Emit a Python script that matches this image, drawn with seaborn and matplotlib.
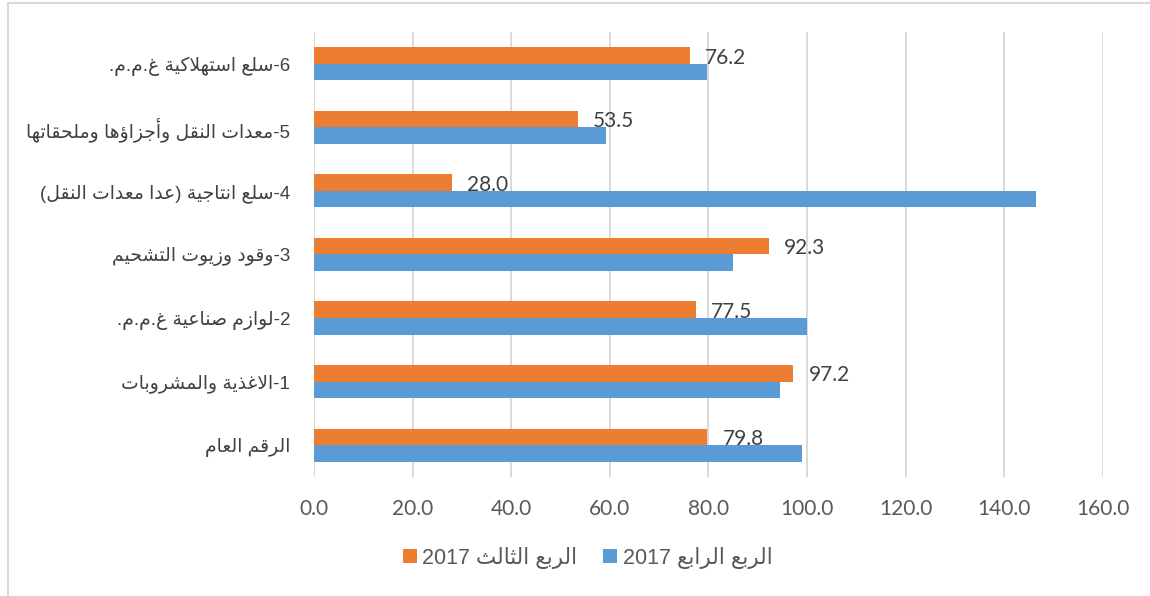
# Import price index by commodity group - Q3 vs Q4 2017

import re
import pandas as pd
import matplotlib.pyplot as plt
import seaborn as sns

# Data (top to bottom as shown in the chart)
categories = [
    '6-سلع استهلاكية غ.م.م.',
    '5-معدات النقل وأجزاؤها وملحقاتها',
    '4-سلع انتاجية (عدا معدات النقل)',
    '3-وقود وزيوت التشحيم',
    '2-لوازم صناعية غ.م.م.',
    '1-الاغذية والمشروبات',
    'الرقم العام',
]
q3_values = [76.2, 53.5, 28.0, 92.3, 77.5, 97.2, 79.8]
q4_values = [79.7, 59.3, 146.4, 84.9, 100.0, 94.5, 99.0]
series_names = ['الربع الثالث 2017', 'الربع الرابع 2017']
x_ticks = [0, 20, 40, 60, 80, 100, 120, 140, 160]

# matplotlib has no Arabic shaping, so map letters to presentation forms
# and put them in visual (right-to-left) order
FORMS = {
    'ا': 0xFE8D, 'أ': 0xFE83, 'ؤ': 0xFE85, 'د': 0xFEA9, 'ذ': 0xFEAB,
    'ر': 0xFEAD, 'ز': 0xFEAF, 'و': 0xFEED, 'ة': 0xFE93,
    'ب': 0xFE8F, 'ت': 0xFE95, 'ث': 0xFE99, 'ج': 0xFE9D, 'ح': 0xFEA1,
    'س': 0xFEB1, 'ش': 0xFEB5, 'ص': 0xFEB9, 'ع': 0xFEC9, 'غ': 0xFECD,
    'ق': 0xFED5, 'ك': 0xFED9, 'ل': 0xFEDD, 'م': 0xFEE1, 'ن': 0xFEE5,
    'ه': 0xFEE9, 'ي': 0xFEF1,
}
RIGHT_ONLY = set('اأؤدذرزوة')


def joins_next(ch):
    return ch in FORMS and ch not in RIGHT_ONLY


def shape_arabic(text):
    out = []
    i = 0
    n = len(text)
    while i < n:
        ch = text[i]
        if ch not in FORMS:
            out.append(ch)
            i += 1
            continue
        linked = i > 0 and joins_next(text[i - 1])
        if ch == 'ل' and i + 1 < n and text[i + 1] in 'اأ':
            base = 0xFEFB if text[i + 1] == 'ا' else 0xFEF7
            out.append(chr(base + (1 if linked else 0)))
            i += 2
            continue
        base = FORMS[ch]
        if ch in RIGHT_ONLY:
            out.append(chr(base + (1 if linked else 0)))
        else:
            onward = i + 1 < n and text[i + 1] in FORMS
            if linked and onward:
                k = 3
            elif onward:
                k = 2
            elif linked:
                k = 1
            else:
                k = 0
            out.append(chr(base + k))
        i += 1
    parts = re.findall(r'\d+|\D', ''.join(out))
    visual = ''.join(reversed(parts))
    return visual.translate(str.maketrans('()', ')('))


cat_labels = [shape_arabic(c) for c in categories]
names = [shape_arabic(s) for s in series_names]

df = pd.DataFrame({
    'category': cat_labels * 2,
    'series': [names[0]] * len(q3_values) + [names[1]] * len(q4_values),
    'value': q3_values + q4_values,
})

sns.set_style('white')
plt.rcParams['font.family'] = ['Liberation Sans', 'DejaVu Sans']

fig = plt.figure(figsize=(11.5, 5.96), dpi=100)
ax = fig.add_axes([0.273, 0.2, 0.686, 0.746])

sns.barplot(data=df, y='category', x='value', hue='series',
            order=cat_labels, hue_order=names,
            palette=['#ED7D31', '#5B9BD5'], saturation=1,
            width=0.52, orient='h', errorbar=None, linewidth=0, ax=ax)

# value labels on the Q3 bars only
texts = ax.bar_label(ax.containers[0], labels=[f'{v:.1f}' for v in q3_values],
                     padding=11, fontsize=15, color='#404040', family='Lato')
for t in texts:
    t.set_va('center_baseline')
    t.set_zorder(5)

ax.set_xlim(0, 160)
ax.set_xticks(x_ticks)
ax.set_xticklabels([f'{t:.1f}' for t in x_ticks], family='Lato',
                   fontsize=15, color='#595959')
ax.set_xlabel('')
ax.set_ylabel('')
for lab in ax.get_yticklabels():
    lab.set_fontsize(13.5)
    lab.set_color('#404040')
ax.tick_params(axis='x', length=0, pad=16)
ax.tick_params(axis='y', length=0, pad=17)
ax.grid(axis='x', color='#D9D9D9', linewidth=1.4)
ax.grid(axis='y', visible=False)
ax.set_axisbelow(True)
for s in ax.spines.values():
    s.set_visible(False)

handles, labels = ax.get_legend_handles_labels()
ax.get_legend().remove()
fig.legend(handles, labels, loc='center', bbox_to_anchor=(0.511, 0.064),
           ncol=2, frameon=False, fontsize=15.5, handlelength=0.65,
           handleheight=0.65, handletextpad=0.25, columnspacing=1.2,
           labelcolor='#595959')

# chart area border (top and left edges visible)
fig.add_artist(plt.Line2D([7.5 / 1150, 1], [1 - 3 / 596, 1 - 3 / 596],
                          transform=fig.transFigure, color='#D9D9D9', lw=1.5))
fig.add_artist(plt.Line2D([7.5 / 1150, 7.5 / 1150], [0, 1 - 3 / 596],
                          transform=fig.transFigure, color='#D9D9D9', lw=1.5))

fig.savefig('out.png', dpi=100)
